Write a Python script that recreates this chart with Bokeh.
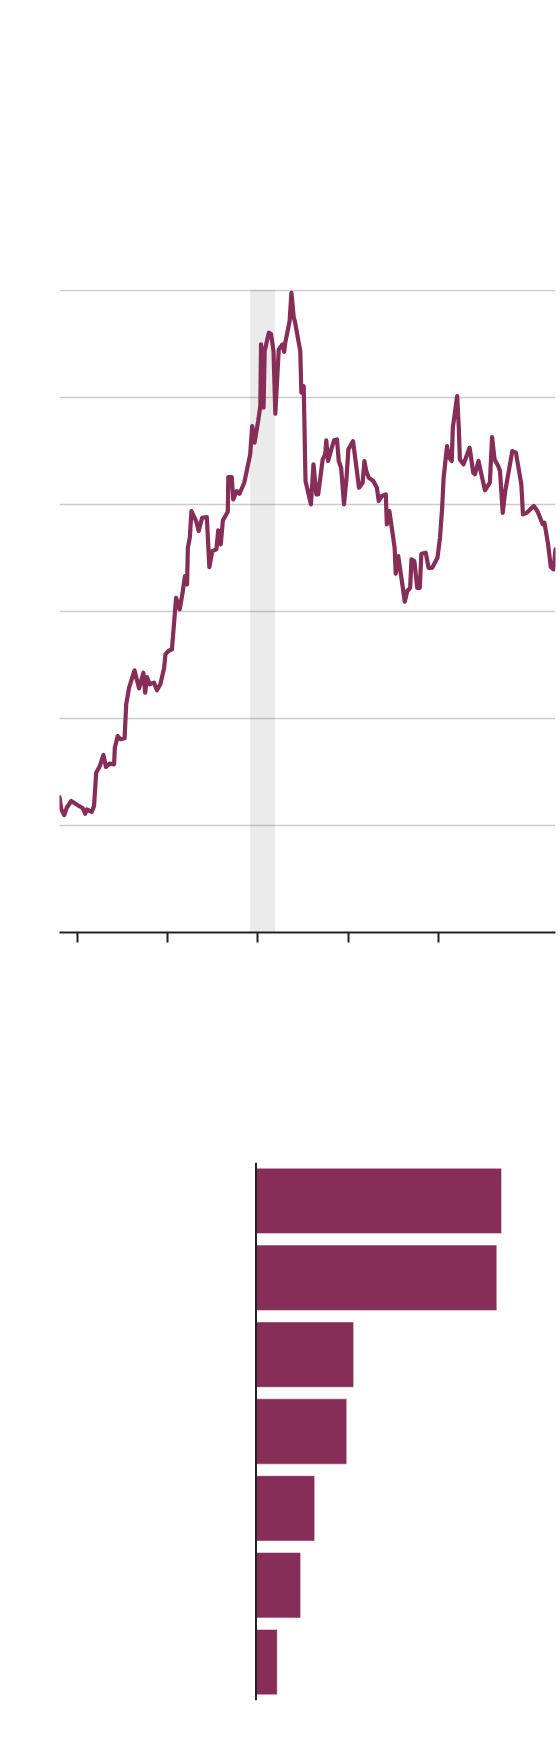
from bokeh.plotting import figure
from bokeh.layouts import column
from bokeh.models import Range1d, FixedTicker, ColumnDataSource, Span
from bokeh.embed import file_html
from bokeh.resources import INLINE

# ---------------- data ----------------
years = [1994.03, 1994.13, 1994.29, 1994.43, 1994.68, 1995.02, 1995.32, 1995.45, 1995.55, 1995.81,
         1995.94, 1996.06, 1996.26, 1996.46, 1996.60, 1996.80, 1997.05, 1997.09, 1997.25, 1997.39,
         1997.63, 1997.72, 1997.88, 1998.18, 1998.43, 1998.67, 1998.77, 1998.87, 1999.02, 1999.26,
         1999.42, 1999.61, 1999.82, 1999.89, 2000.05, 2000.25, 2000.48, 2000.68, 2000.84, 2000.97,
         2001.09, 2001.13, 2001.24, 2001.33, 2001.59, 2001.73, 2001.92, 2002.18, 2002.32, 2002.48,
         2002.71, 2002.81, 2002.95, 2003.07, 2003.34, 2003.37, 2003.56, 2003.64, 2003.84, 2003.99,
         2004.25, 2004.58, 2004.69, 2004.82, 2005.02, 2005.14, 2005.18, 2005.32, 2005.38, 2005.61,
         2005.73, 2005.87, 2005.97, 2006.16, 2006.36, 2006.46, 2006.52, 2006.76, 2006.86, 2006.99,
         2007.05, 2007.35, 2007.41, 2007.54, 2007.64, 2007.94, 2008.08, 2008.24, 2008.34, 2008.59,
         2008.73, 2008.79, 2008.89, 2009.12, 2009.22, 2009.38, 2009.48, 2009.61, 2009.77, 2009.91,
         2010.01, 2010.27, 2010.60, 2010.80, 2010.90, 2011.00, 2011.14, 2011.39, 2011.59, 2011.69,
         2011.85, 2012.08, 2012.14, 2012.28, 2012.57, 2012.63, 2012.77, 2012.97, 2013.13, 2013.27,
         2013.43, 2013.50, 2013.66, 2013.82, 2013.96, 2014.05, 2014.29, 2014.45, 2014.65, 2014.94,
         2015.08, 2015.20, 2015.28, 2015.47, 2015.59, 2015.73, 2015.79, 2015.93, 2016.03, 2016.12,
         2016.18, 2016.38, 2016.72, 2016.92, 2017.01, 2017.21, 2017.37, 2017.57, 2017.84, 2017.96,
         2018.10, 2018.30, 2018.40, 2018.55, 2018.69, 2019.08, 2019.28, 2019.58, 2019.67, 2019.88,
         2020.27, 2020.47, 2020.76, 2020.86, 2021.06, 2021.21, 2021.36, 2021.47]

values = [1.266, 1.151, 1.098, 1.166, 1.229, 1.192, 1.161, 1.110, 1.151, 1.126,
          1.182, 1.493, 1.556, 1.659, 1.547, 1.578, 1.572, 1.727, 1.836, 1.806,
          1.815, 2.133, 2.288, 2.450, 2.282, 2.428, 2.241, 2.388, 2.320, 2.335,
          2.264, 2.320, 2.475, 2.600, 2.631, 2.647, 3.129, 3.021, 3.176, 3.332,
          3.254, 3.596, 3.690, 3.939, 3.846, 3.752, 3.877, 3.883, 3.416, 3.565,
          3.581, 3.759, 3.628, 3.852, 3.933, 4.257, 4.257, 4.049, 4.126, 4.101,
          4.204, 4.469, 4.734, 4.578, 4.780, 4.921, 5.497, 4.905, 5.435, 5.606,
          5.596, 5.435, 4.849, 5.450, 5.497, 5.428, 5.512, 5.715, 5.979, 5.746,
          5.715, 5.435, 5.045, 5.107, 4.220, 4.002, 4.376, 4.095, 4.095, 4.422,
          4.469, 4.600, 4.407, 4.547, 4.600, 4.609, 4.407, 4.344, 4.002, 4.250,
          4.516, 4.593, 4.157, 4.204, 4.407, 4.313, 4.250, 4.220, 4.157, 4.033,
          4.079, 4.095, 3.815, 3.939, 3.596, 3.353, 3.519, 3.285, 3.092, 3.192,
          3.222, 3.488, 3.472, 3.222, 3.222, 3.540, 3.550, 3.409, 3.409, 3.503,
          3.690, 3.970, 4.250, 4.547, 4.437, 4.407, 4.718, 4.890, 5.014, 4.718,
          4.422, 4.376, 4.531, 4.297, 4.282, 4.407, 4.282, 4.133, 4.204, 4.631,
          4.422, 4.360, 4.313, 3.923, 4.126, 4.500, 4.484, 4.189, 3.908, 3.923,
          3.986, 3.939, 3.815, 3.830, 3.628, 3.416, 3.394, 3.581]

shade_start = 2004.58
shade_end = 2005.95
x_ticks = [1995, 2000, 2005, 2010, 2015]
y_grid = [0, 1, 2, 3, 4, 5, 6]

bar_values = [82.0, 80.4, 32.6, 30.3, 19.6, 14.9, 7.1]

PURPLE = "#862e58"

# ---------------- line chart ----------------
p1 = figure(width=560, height=1000, output_backend="svg", toolbar_location=None,
            x_range=Range1d(years[0], years[-1]), y_range=Range1d(0, 6.01),
            min_border_left=59, min_border_right=5, min_border_top=289, min_border_bottom=68,
            background_fill_color="white", border_fill_color="white")
p1.outline_line_color = None

p1.quad(left=[shade_start], right=[shade_end], bottom=[0], top=[6.01],
        fill_color="black", fill_alpha=0.08, line_color=None)
p1.line(years, values, line_color=PURPLE, line_width=4.2, line_join="round", line_cap="round")

p1.yaxis.visible = False
p1.xgrid.visible = False
p1.ygrid.ticker = FixedTicker(ticks=y_grid)
p1.ygrid.grid_line_color = "#cccccc"
p1.ygrid.grid_line_width = 1.5

xa = p1.xaxis[0]
xa.ticker = FixedTicker(ticks=x_ticks)
xa.major_label_overrides = {t: "" for t in x_ticks}
xa.minor_tick_line_color = None
xa.major_tick_in = 0
xa.major_tick_out = 10
xa.major_tick_line_color = "#222222"
xa.major_tick_line_width = 2
xa.axis_line_color = "#222222"
xa.axis_line_width = 2

# ---------------- bar chart ----------------
n = len(bar_values)
ypos = list(range(1, n + 1))
src = ColumnDataSource(dict(y=ypos, right=bar_values))

p2 = figure(width=560, height=748, output_backend="svg", toolbar_location=None,
            x_range=Range1d(-65.6, 100), y_range=Range1d(n + 0.5, 0.5),
            min_border_left=59, min_border_right=5, min_border_top=162, min_border_bottom=48,
            background_fill_color="white", border_fill_color="white")
p2.outline_line_color = None
p2.hbar(y="y", right="right", left=0, height=0.85, source=src,
        fill_color=PURPLE, line_color="white", line_width=0.8, line_alpha=0.6)
p2.xaxis.visible = False
p2.yaxis.visible = False
p2.xgrid.visible = False
p2.ygrid.visible = False
p2.add_layout(Span(location=0, dimension="height", line_color="#222222", line_width=2))

layout = column(p1, p2, spacing=0)
open("out.html", "w").write(file_html(layout, INLINE))
